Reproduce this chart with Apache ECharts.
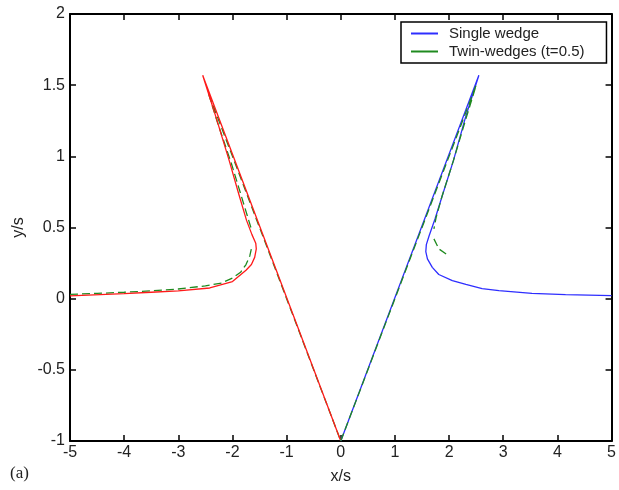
<!DOCTYPE html>
<html>
<head>
<meta charset="utf-8">
<script src="https://cdn.jsdelivr.net/npm/echarts@6/dist/echarts.min.js"></script>
<style>html,body{margin:0;padding:0;background:#fff;}#c{width:619px;height:490px;}</style>
</head>
<body>
<div id="c"></div>
<script>
// Single wedge (right side, blue)
var blueX = [0, 2.55, 2.3, 2.08, 1.88, 1.74, 1.63, 1.58, 1.57, 1.6, 1.69, 1.81, 2.06, 2.31, 2.61, 2.92, 3.53, 4.15, 5.0];
var blueY = [-1, 1.57, 1.27, 0.97, 0.73, 0.56, 0.44, 0.38, 0.33, 0.28, 0.22, 0.17, 0.127, 0.10, 0.07, 0.056, 0.037, 0.028, 0.021];
// Single wedge mirrored (left side, red)
var redX = [0, -2.55, -2.3, -2.06, -1.88, -1.74, -1.64, -1.57, -1.56, -1.59, -1.65, -1.75, -2.0, -2.42, -3.0, -3.5, -4.0, -5.0];
var redY = [-1, 1.57, 1.27, 0.97, 0.73, 0.55, 0.45, 0.39, 0.35, 0.29, 0.24, 0.20, 0.12, 0.075, 0.055, 0.045, 0.035, 0.02];
// Twin-wedges (t=0.5), left branch (null = gap)
var greenLX = [-5, -4.5, -4, -3.5, -3, -2.5, -2.2, -2.0, -1.85, -1.75, -1.68, -1.64, null, -1.66, -1.78, -2.02, -2.27, -2.45, 0];
var greenLY = [0.03, 0.037, 0.045, 0.055, 0.068, 0.09, 0.11, 0.145, 0.185, 0.24, 0.30, 0.37, null, 0.50, 0.65, 0.95, 1.23, 1.45, -1];
// Twin-wedges (t=0.5), right branch
var greenRX = [0, 2.5, 2.3, 2.08, 1.87, 1.76, 1.72, null, 1.72, 1.81, 2.0];
var greenRY = [-1, 1.5, 1.25, 0.97, 0.72, 0.57, 0.49, null, 0.42, 0.35, 0.30];

var xTicks = [-5, -4, -3, -2, -1, 0, 1, 2, 3, 4, 5];
var yTicks = [-1, -0.5, 0, 0.5, 1, 1.5, 2];

function pairs(xs, ys) {
  return xs.map(function (x, i) { return (x === null || ys[i] === null) ? ['-', '-'] : [x, ys[i]]; });
}

var FONT = 'Liberation Sans, Arial, sans-serif';
var chart = echarts.init(document.getElementById('c'));
var axisCommon = {
  axisLine: { show: true, onZero: false, lineStyle: { color: '#000', width: 2 } },
  axisTick: { show: true, inside: true, length: 6, lineStyle: { color: '#000', width: 1.5 } },
  splitLine: { show: false }
};
chart.setOption({
  animation: false,
  backgroundColor: '#fff',
  grid: { left: 70, right: 6, top: 14, bottom: 49 },
  xAxis: [
    Object.assign({ type: 'value', min: xTicks[0], max: xTicks[xTicks.length - 1], interval: 1, position: 'bottom',
      name: 'x/s', nameLocation: 'middle', nameGap: 28,
      nameTextStyle: { fontFamily: FONT, fontSize: 16, color: '#222' },
      axisLabel: { fontFamily: FONT, fontSize: 16, color: '#222', margin: 4 } }, axisCommon),
    Object.assign({ type: 'value', min: xTicks[0], max: xTicks[xTicks.length - 1], interval: 1, position: 'top',
      axisLabel: { show: false } }, axisCommon)
  ],
  yAxis: [
    Object.assign({ type: 'value', min: yTicks[0], max: yTicks[yTicks.length - 1], interval: 0.5, position: 'left',
      name: 'y/s', nameLocation: 'middle', nameGap: 39,
      nameTextStyle: { fontFamily: FONT, fontSize: 16, color: '#222' },
      axisLabel: { fontFamily: FONT, fontSize: 16, color: '#222', margin: 5 } }, axisCommon),
    Object.assign({ type: 'value', min: yTicks[0], max: yTicks[yTicks.length - 1], interval: 0.5, position: 'right',
      axisLabel: { show: false } }, axisCommon)
  ],
  legend: {
    orient: 'vertical', left: 401, top: 22,
    padding: [4, 22, 4, 10], itemGap: 3, itemWidth: 27, itemHeight: 2,
    backgroundColor: '#fff', borderColor: '#000', borderWidth: 1.5, borderRadius: 0,
    textStyle: { fontFamily: FONT, fontSize: 15, color: '#222', padding: [0, 0, 0, 6] },
    data: [
      { name: 'Single wedge', icon: 'rect' },
      { name: 'Twin-wedges (t=0.5)', icon: 'rect' }
    ]
  },
  graphic: [
    { type: 'text', left: 10, top: 465, style: { text: '(a)', fontFamily: 'Liberation Serif, serif', fontSize: 17, fill: '#222' } }
  ],
  series: [
    { name: 'Twin-wedges (t=0.5)', type: 'line', showSymbol: false, connectNulls: false,
      data: pairs(greenLX, greenLY), color: '#1f8a1f', lineStyle: { width: 1.3, type: [8, 4], color: '#1f8a1f' } },
    { name: 'mirror', type: 'line', showSymbol: false,
      data: pairs(redX, redY), color: '#ff1a1a', lineStyle: { width: 1.3, color: '#ff1a1a' } },
    { name: 'Single wedge', type: 'line', showSymbol: false,
      data: pairs(blueX, blueY), color: '#2e2eff', lineStyle: { width: 1.3, color: '#2e2eff' } },
    { name: 'Twin-wedges (t=0.5)', type: 'line', showSymbol: false, connectNulls: false,
      data: pairs(greenRX, greenRY), color: '#1f8a1f', lineStyle: { width: 1.3, type: [8, 4], color: '#1f8a1f' } }
  ]
});
</script>
</body>
</html>
